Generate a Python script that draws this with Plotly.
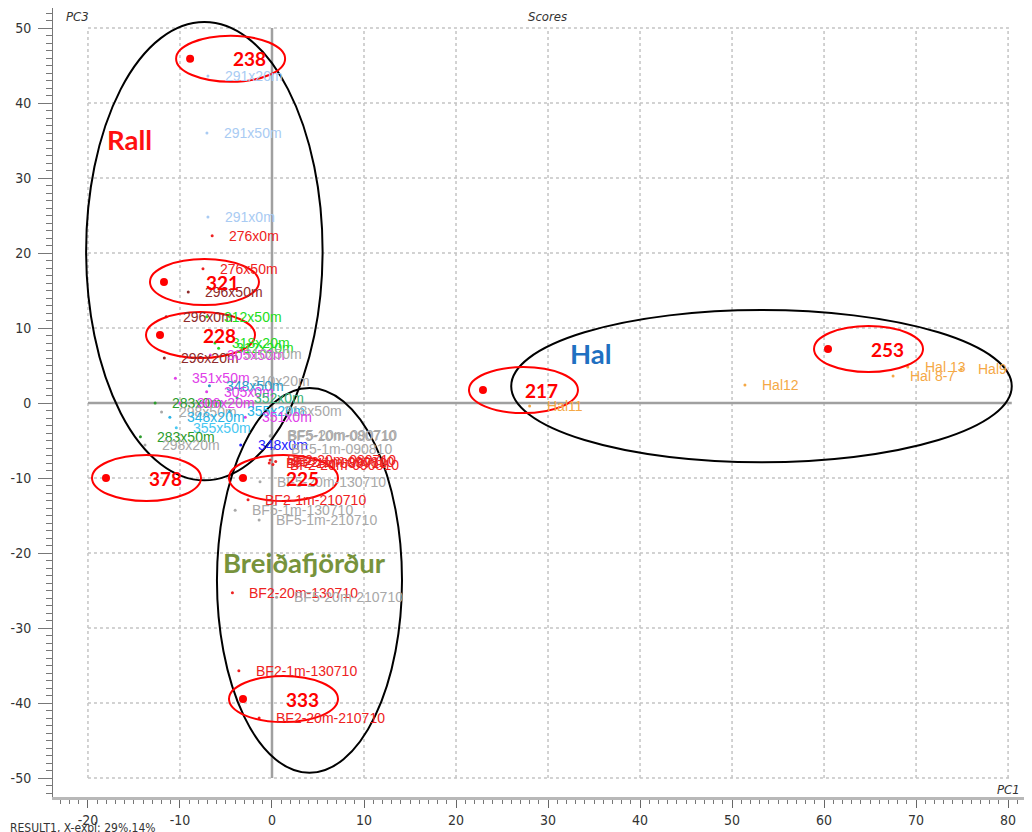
import plotly.graph_objects as go

# PCA scores (PC1, PC3)
sample_labels = [
    "291x20m", "291x50m", "291x0m", "276x0m", "276x50m", "296x50m", "296x0m", "312x50m",
    "296x20m", "318x20m", "312x20m", "305x50m", "310x50m", "351x50m", "310x20m", "348x50m",
    "305x0m", "352x0m", "283x0m", "306x20m", "298x50m", "348x20m", "355x50m", "283x50m",
    "298x20m", "355x20m", "318x50m", "351x0m", "348x0m",
    "BF5-10m-080710", "BF5-20m-090710", "BF5-1m-090810", "BF2-20m-080710", "BF2-1m-080710",
    "BF2-20m-090810", "BF2-1m-090810", "BF5-20m-130710", "BF2-1m-210710", "BF5-1m-130710",
    "BF5-1m-210710", "BF2-20m-130710", "BF5-20m-210710", "BF2-1m-130710", "BF2-20m-210710",
    "Hal11", "Hal12", "Hal 8-7", "Hal 13", "Hal9",
]
sample_pc1 = [
    -6.96, -7.07, -6.96, -6.5, -7.5, -9.1, -11.5, -7.1,
    -11.7, -6.2, -5.8, -6.7, -4.9, -10.5, -4.0, -6.8,
    -7.1, -3.8, -12.7, -10.0, -12.0, -11.1, -10.4, -14.3,
    -13.8, -4.6, -0.5, -2.9, -3.4,
    -0.2, -0.1, 0.2, -0.2, -0.3,
    0.1, 0.4, -1.3, -2.6, -4.0,
    -1.4, -4.3, 0.5, -3.6, -1.4,
    28.0, 51.4, 67.5, 69.1, 74.9,
]
sample_pc3 = [
    43.6, 36.0, 24.8, 22.3, 17.9, 14.8, 11.5, 11.5,
    6.0, 8.0, 7.3, 6.4, 6.5, 3.3, 2.9, 2.3,
    1.5, 0.7, 0.0, 0.0, -1.2, -1.9, -3.3, -4.5,
    -5.6, -1.1, -1.1, -1.9, -5.6,
    -4.4, -4.3, -6.1, -7.6, -8.0,
    -8.2, -7.8, -10.5, -12.9, -14.3,
    -15.6, -25.3, -25.9, -35.7, -42.0,
    -0.4, 2.4, 3.6, 4.8, 4.5,
]
sample_groups = [
    "pale", "pale", "pale", "red", "red", "maroon", "maroon", "lime",
    "maroon", "lime", "lime", "magenta", "grey", "magenta", "grey", "teal",
    "magenta", "sea", "green", "magenta", "grey", "cyan", "sky", "green",
    "grey", "cyan", "grey", "magenta", "blue",
    "grey", "grey", "grey", "red", "red",
    "red", "red", "grey", "red", "grey",
    "grey", "red", "grey", "red", "red",
    "hal", "hal", "hal", "hal", "hal",
]

# highlighted samples
highlight_ids = ["238", "321", "228", "378", "225", "333", "253", "217"]
highlight_pc1 = [-8.9, -11.74, -12.17, -18.04, -3.15, -3.15, 60.43, 22.93]
highlight_pc3 = [45.9, 16.13, 9.07, -10.0, -10.0, -39.47, 7.2, 1.73]

# hand-drawn cluster outlines
cluster_names = ["Rall", "Breiðafjörður", "Hal"]
cluster_pc1_min = [-20.2, -5.98, 26.0]
cluster_pc1_max = [5.5, 14.13, 80.4]
cluster_pc3_min = [-10.3, -49.3, -7.9]
cluster_pc3_max = [50.8, 2.0, 12.4]
cluster_label_pc1 = [-15.5, 3.5, 34.7]
cluster_label_pc3 = [35.2, -21.2, 6.67]

x_ticks = [-20, -10, 0, 10, 20, 30, 40, 50, 60, 70, 80]
y_ticks = [-50, -40, -30, -20, -10, 0, 10, 20, 30, 40, 50]

GROUP_COLORS = {
    "pale": "#a9cbf3", "red": "#ee2222", "maroon": "#8e2a2a", "lime": "#22dd22",
    "magenta": "#e040e8", "grey": "#a8a8a8", "teal": "#2a9cc8", "sea": "#3cb37a",
    "green": "#2c9c2c", "cyan": "#2ab4e6", "sky": "#48c8f2", "blue": "#2424ff",
    "hal": "#f5a845",
}
CLUSTER_COLORS = ["#ff1010", "#77933c", "#1f70c1"]
LABEL_FONT = "Liberation Sans, Arial, sans-serif"
BOLD_FONT = "Lato, Open Sans, sans-serif"
AXIS_FONT = "Liberation Sans Narrow, DejaVu Sans Condensed, sans-serif"

fig = go.Figure()

for group, color in GROUP_COLORS.items():
    idx = [i for i, g in enumerate(sample_groups) if g == group]
    fig.add_trace(go.Scatter(
        x=[sample_pc1[i] for i in idx], y=[sample_pc3[i] for i in idx],
        mode="markers", marker={"size": 3, "color": color},
        hoverinfo="skip", showlegend=False,
    ))

fig.add_trace(go.Scatter(
    x=highlight_pc1, y=highlight_pc3, mode="markers",
    marker={"size": 8, "color": "#ff0000"}, hoverinfo="skip", showlegend=False,
))

shapes = []
# dotted grid + solid zero lines
for gx in x_ticks:
    shapes.append({
        "type": "line", "xref": "x", "yref": "y", "x0": gx, "x1": gx, "y0": y_ticks[0], "y1": y_ticks[-1],
        "line": {"color": "#a0a0a0" if gx == 0 else "#c4c4c4", "width": 2.5 if gx == 0 else 1.5,
                 "dash": "solid" if gx == 0 else "dot"},
        "layer": "below",
    })
for gy in y_ticks:
    shapes.append({
        "type": "line", "xref": "x", "yref": "y", "x0": x_ticks[0], "x1": x_ticks[-1] + 0.4, "y0": gy, "y1": gy,
        "line": {"color": "#a0a0a0" if gy == 0 else "#c4c4c4", "width": 2.5 if gy == 0 else 1.5,
                 "dash": "solid" if gy == 0 else "dot"},
        "layer": "below",
    })

for i in range(len(cluster_names)):
    shapes.append({
        "type": "circle", "xref": "x", "yref": "y",
        "x0": cluster_pc1_min[i], "x1": cluster_pc1_max[i],
        "y0": cluster_pc3_min[i], "y1": cluster_pc3_max[i],
        "line": {"color": "black", "width": 2}, "fillcolor": "rgba(0,0,0,0)",
    })

for px, py in zip(highlight_pc1, highlight_pc3):
    shapes.append({
        "type": "circle", "xref": "x", "yref": "y",
        "xsizemode": "pixel", "ysizemode": "pixel", "xanchor": px, "yanchor": py,
        "x0": -14, "x1": 95, "y0": -23, "y1": 23,
        "line": {"color": "#ff0000", "width": 2}, "fillcolor": "rgba(0,0,0,0)",
    })

annotations = []
for label, px, py, group in zip(sample_labels, sample_pc1, sample_pc3, sample_groups):
    annotations.append({
        "x": px, "y": py, "xref": "x", "yref": "y", "text": label, "showarrow": False,
        "xanchor": "left", "yanchor": "middle", "xshift": 15,
        "font": {"family": LABEL_FONT, "size": 14, "color": GROUP_COLORS[group]},
    })
for name, px, py in zip(highlight_ids, highlight_pc1, highlight_pc3):
    annotations.append({
        "x": px, "y": py, "xref": "x", "yref": "y", "text": f"<b>{name}</b>", "showarrow": False,
        "xanchor": "center", "yanchor": "middle", "xshift": 59,
        "font": {"family": BOLD_FONT, "size": 19, "color": "#ff0000"},
    })
for name, px, py, color in zip(cluster_names, cluster_label_pc1, cluster_label_pc3, CLUSTER_COLORS):
    annotations.append({
        "x": px, "y": py, "xref": "x", "yref": "y", "text": f"<b>{name}</b>", "showarrow": False,
        "xanchor": "center", "yanchor": "middle",
        "font": {"family": BOLD_FONT, "size": 27.5, "color": color},
    })

corner_font = {"family": AXIS_FONT, "size": 13, "color": "#333333"}
annotations += [
    {"x": 0.5056, "y": 0.9886, "xref": "paper", "yref": "paper", "text": "<i>Scores</i>",
     "showarrow": False, "xanchor": "center", "yanchor": "middle", "font": corner_font},
    {"x": 0.011, "y": 0.9886, "xref": "paper", "yref": "paper", "text": "<i>PC3</i>",
     "showarrow": False, "xanchor": "left", "yanchor": "middle", "font": corner_font},
    {"x": 0.99, "y": 0.009, "xref": "paper", "yref": "paper", "text": "<i>PC1</i>",
     "showarrow": False, "xanchor": "right", "yanchor": "middle", "font": corner_font},
    {"x": -0.046, "y": -0.039, "xref": "paper", "yref": "paper", "text": "RESULT1, X-expl: 29%,14%",
     "showarrow": False, "xanchor": "left", "yanchor": "middle",
     "font": {"family": AXIS_FONT, "size": 12, "color": "#333333"}},
]

# the page body adds an 8px offset, so the figure is drawn 8px smaller
fig.update_layout(
    width=1024, height=824,
    margin={"l": 45, "r": 0, "t": 0, "b": 35},
    paper_bgcolor="white", plot_bgcolor="white",
    shapes=shapes, annotations=annotations,
    xaxis={
        "range": [-23.8, 82.6], "showgrid": False, "zeroline": False, "automargin": False,
        "showline": True, "linecolor": "#b8b8b8", "linewidth": 3,
        "ticks": "outside", "ticklen": 8, "tickcolor": "#666666", "tickwidth": 1,
        "tickvals": x_ticks, "ticktext": [str(v) for v in x_ticks],
        "tickfont": {"family": AXIS_FONT, "size": 14, "color": "#333333"},
        "minor": {"ticks": "outside", "ticklen": 4, "dtick": 1, "tick0": 0, "tickcolor": "#777777"},
    },
    yaxis={
        "range": [-52.53, 52.67], "showgrid": False, "zeroline": False, "automargin": False,
        "showline": True, "linecolor": "#777777", "linewidth": 1,
        "ticks": "outside", "ticklen": 14, "tickcolor": "#777777", "tickwidth": 1,
        "ticklabelstandoff": 4,
        "tickvals": y_ticks, "ticktext": [str(v) for v in y_ticks],
        "tickfont": {"family": AXIS_FONT, "size": 14, "color": "#333333"},
        "minor": {"ticks": "outside", "ticklen": 6, "dtick": 1, "tick0": 0, "tickcolor": "#777777"},
    },
)

fig.write_html("out.html")
